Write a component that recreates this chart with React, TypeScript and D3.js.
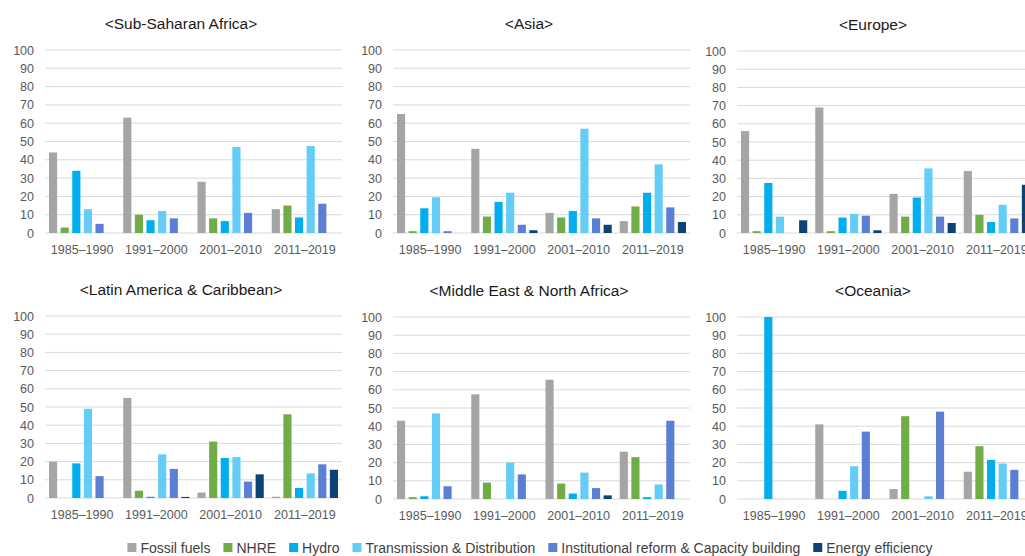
import * as d3 from "d3"
import { useRef, useEffect } from "react"

const periods = ["1985–1990", "1991–2000", "2001–2010", "2011–2019"]
const yTicks = [0, 10, 20, 30, 40, 50, 60, 70, 80, 90, 100]

const seriesNames = [
  "Fossil fuels",
  "NHRE",
  "Hydro",
  "Transmission & Distribution",
  "Institutional reform & Capacity building",
  "Energy efficiency",
]
const seriesColors = ["#A5A5A5", "#70AD47", "#00ADEF", "#63CDF8", "#5B7FD5", "#0D4275"]

// one row per period, values in series order
const subSaharanAfrica = [
  [44, 3, 34, 13, 5, 0],
  [63, 10, 7, 12, 8, 0],
  [28, 8, 6.5, 47, 11, 0],
  [13, 15, 8.5, 47.5, 16, 0],
]
const asia = [
  [65, 1, 13.5, 19.5, 1, 0],
  [46, 9, 17, 22, 4.5, 1.5],
  [11, 8.5, 12, 57, 8, 4.5],
  [6.5, 14.5, 22, 37.5, 14, 6],
]
const europe = [
  [56, 1, 27.5, 9, 0, 7],
  [69, 1, 8.5, 10.5, 9.5, 1.5],
  [21.5, 9, 19.5, 35.5, 9, 5.5],
  [34, 10, 6, 15.5, 8, 26.5],
]
const latinAmerica = [
  [20, 0, 19, 49, 12, 0],
  [55, 4, 0.7, 24, 16, 0.6],
  [3, 31, 22, 22.5, 9, 13],
  [0.7, 46, 5.5, 13.5, 18.5, 15.5],
]
const middleEast = [
  [43, 1, 1.5, 47, 7, 0],
  [57.5, 9, 0, 20, 13.5, 0],
  [65.5, 8.5, 3, 14.5, 6, 2],
  [26, 23, 1, 8, 43, 0],
]
const oceania = [
  [0, 0, 100, 0, 0, 0],
  [41, 0, 4.5, 18, 37, 0],
  [5.5, 45.5, 0, 1.5, 48, 0],
  [15, 29, 21.5, 19.5, 16, 0],
]

const panels = [
  { title: "<Sub-Saharan Africa>", data: subSaharanAfrica, left: 45, top: 50, bottom: 233 },
  { title: "<Asia>", data: asia, left: 393, top: 50, bottom: 233 },
  { title: "<Europe>", data: europe, left: 737, top: 51, bottom: 233 },
  { title: "<Latin America & Caribbean>", data: latinAmerica, left: 45, top: 316, bottom: 498 },
  { title: "<Middle East & North Africa>", data: middleEast, left: 393, top: 317, bottom: 499 },
  { title: "<Oceania>", data: oceania, left: 737, top: 317, bottom: 499 },
]

const width = 1025
const height = 556
const plotWidth = 297
const font = "'Liberation Sans', Arial, sans-serif"

export default function App() {
  const svgRef = useRef<SVGSVGElement>(null)

  useEffect(() => {
    if (!svgRef.current) return
    const svg = d3.select(svgRef.current)
    svg.selectAll("*").remove()

    svg.append("rect").attr("width", width).attr("height", height).attr("fill", "#fff")

    panels.forEach((p) => {
      const g = svg.append("g")
      const x = d3
        .scaleBand()
        .domain(periods)
        .range([p.left, p.left + plotWidth])
      const inner = d3
        .scaleBand()
        .domain(seriesNames)
        .range([4, x.bandwidth() - 4])
        .paddingInner(0.3)
      const y = d3.scaleLinear().domain([0, 100]).range([p.bottom, p.top])

      g.append("g")
        .selectAll("line")
        .data(yTicks)
        .enter()
        .append("line")
        .attr("x1", p.left)
        .attr("x2", p.left + plotWidth)
        .attr("y1", (d) => y(d))
        .attr("y2", (d) => y(d))
        .attr("stroke", "#D9D9D9")
        .attr("stroke-width", 1)

      g.append("g")
        .selectAll("text")
        .data(yTicks)
        .enter()
        .append("text")
        .attr("x", p.left - 11)
        .attr("y", (d) => y(d))
        .attr("dy", "0.36em")
        .attr("text-anchor", "end")
        .style("font-family", font)
        .style("font-size", "12.5px")
        .style("fill", "#595959")
        .text((d) => d)

      periods.forEach((period, pi) => {
        g.append("g")
          .selectAll("rect")
          .data(p.data[pi])
          .enter()
          .append("rect")
          .attr("x", (_d, si) => (x(period) ?? 0) + (inner(seriesNames[si]) ?? 0))
          .attr("y", (d) => y(d))
          .attr("width", inner.bandwidth())
          .attr("height", (d) => p.bottom - y(d))
          .attr("fill", (_d, si) => seriesColors[si])
      })

      g.append("g")
        .selectAll("text")
        .data(periods)
        .enter()
        .append("text")
        .attr("x", (d) => (x(d) ?? 0) + x.bandwidth() / 2)
        .attr("y", p.bottom + 21)
        .attr("text-anchor", "middle")
        .style("font-family", font)
        .style("font-size", "12.5px")
        .style("fill", "#595959")
        .text((d) => d)

      g.append("text")
        .attr("x", p.left + 136)
        .attr("y", p.top - 21)
        .attr("text-anchor", "middle")
        .style("font-family", font)
        .style("font-size", "15.5px")
        .style("fill", "#1a1a1a")
        .text(p.title)
    })

    // legend, centred under the panels
    const legend = svg.append("g")
    let cursor = 0
    seriesNames.forEach((name, i) => {
      legend
        .append("rect")
        .attr("x", cursor)
        .attr("y", 543)
        .attr("width", 9)
        .attr("height", 9)
        .attr("fill", seriesColors[i])
      const t = legend
        .append("text")
        .attr("x", cursor + 13)
        .attr("y", 553)
        .style("font-family", font)
        .style("font-size", "14px")
        .style("fill", "#404040")
        .text(name)
      const w = (t.node() as SVGTextElement).getComputedTextLength()
      cursor += 13 + w + 13
    })
    const total = cursor - 13
    legend.attr("transform", `translate(${530 - total / 2},0)`)
  }, [])

  return (
    <div style={{ position: "fixed", left: 0, top: 0 }}>
      <svg ref={svgRef} width={width} height={height} style={{ display: "block" }}></svg>
    </div>
  )
}
